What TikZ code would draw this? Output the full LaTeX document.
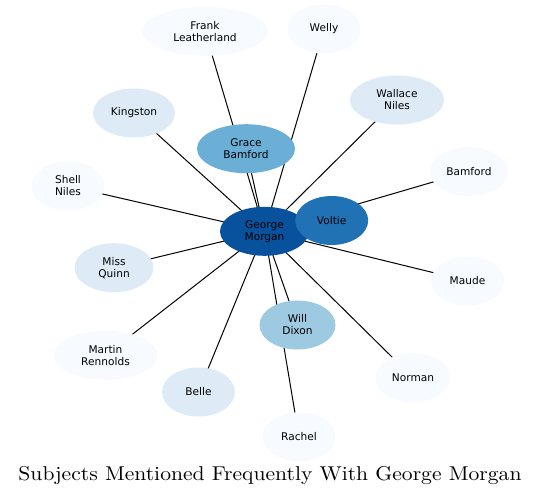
\documentclass[tikz,border=0pt]{standalone}
\usepackage{fontspec}
\newfontfamily\labelfont{DejaVu Sans}
\usetikzlibrary{shapes.geometric,backgrounds}
\definecolor{blueA}{HTML}{08519C}
\definecolor{blueB}{HTML}{2171B5}
\definecolor{blueC}{HTML}{6BAED6}
\definecolor{blueD}{HTML}{9ECAE1}
\definecolor{blueE}{HTML}{DEEBF7}
\definecolor{blueF}{HTML}{F7FBFF}
\begin{document}
\begin{tikzpicture}[
        x=1pt, y=-1pt,
        person/.style={
            ellipse,
            inner sep=0pt,
            minimum height=49pt,
            minimum width=73pt,
            align=center,
            font=\labelfont\fontsize{10.6}{12}\selectfont
        },
        levelA/.style={person, fill=blueA},
        levelB/.style={person, fill=blueB},
        levelC/.style={person, fill=blueC},
        levelD/.style={person, fill=blueD},
        levelE/.style={person, fill=blueE},
        levelF/.style={person, fill=blueF},
        link/.style={line width=1pt}
    ]
        \useasboundingbox (0,0) rectangle (540,497);

        \node[levelA, minimum width=89pt] (morgan) at (264.5,231.3) {George\\Morgan};
        \node[levelB] (voltie) at (331.7,220.5) {Voltie};
        \node[levelC, minimum width=98pt] (grace) at (246,148.7) {Grace\\Bamford};
        \node[levelD, minimum width=76pt] (dixon) at (297.5,325) {Will\\Dixon};

        \node[levelE, minimum width=82pt] (kingston) at (134,113) {Kingston};
        \node[levelE, minimum width=94pt] (wallace) at (397,100) {Wallace\\Niles};
        \node[levelE, minimum width=79pt] (quinn) at (114,267.7) {Miss\\Quinn};
        \node[levelE] (belle) at (198.5,392) {Belle};

        \node[levelF, minimum width=126pt] (frank) at (205,31.3) {Frank\\Leatherland};
        \node[levelF] (welly) at (324,29) {Welly};
        \node[levelF, minimum width=78pt] (bamford) at (469,171.5) {Bamford};
        \node[levelF] (shell) at (68,186) {Shell\\Niles};
        \node[levelF] (maude) at (467.5,281) {Maude};
        \node[levelF, minimum width=104pt] (martin) at (105.5,355.3) {Martin\\Rennolds};
        \node[levelF, minimum width=75pt] (norman) at (413,377.7) {Norman};
        \node[levelF] (rachel) at (299,436.8) {Rachel};

        \begin{scope}[on background layer]
            \foreach \other in {voltie, grace, dixon, kingston, wallace, quinn, belle,
                    frank, welly, bamford, shell, maude, martin, norman, rachel}
                \draw[link] (morgan.center) -- (\other.center);
        \end{scope}

        \node[anchor=base, inner sep=0pt] (title) at (270,480.7)
            {\scalebox{2.16}[2.0]{Subjects Mentioned Frequently With George Morgan}};
    \end{tikzpicture}
\end{document}
